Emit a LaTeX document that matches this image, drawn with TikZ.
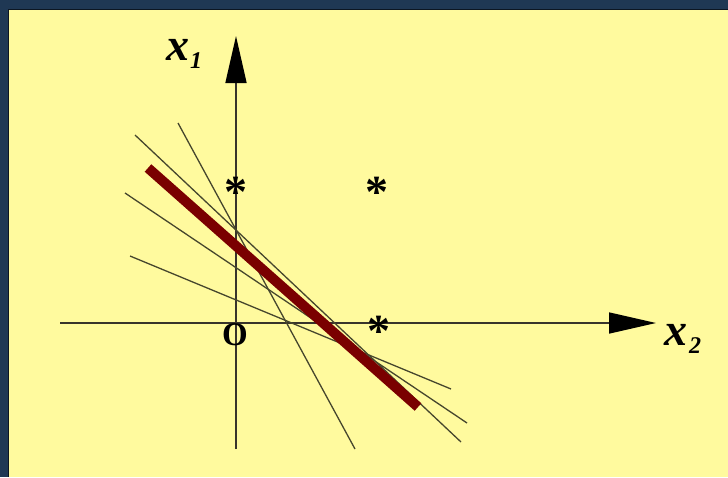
\documentclass[tikz,border=0pt]{standalone}
\usepackage{fontspec}
\setmainfont{Liberation Serif}
\usetikzlibrary{arrows.meta}
\definecolor{navy}{RGB}{31,56,84}
\definecolor{paper}{RGB}{255,250,158}
\definecolor{thin}{RGB}{70,70,45}
\definecolor{dred}{RGB}{122,0,0}
\begin{document}
\begin{tikzpicture}[x=1pt,y=-1pt,
  thinline/.style={draw=thin,line width=1.3pt},
  axis/.style={draw=black!80!olive,line width=1.6pt,-{Triangle[length=47pt,width=21pt,black]}},
  starmark/.style={font=\fontsize{46}{46}\selectfont\bfseries,inner sep=0pt,anchor=base},
  lbl/.style={font=\fontsize{46}{46}\selectfont\bfseries\itshape,inner sep=0pt,anchor=base west},
  sub/.style={font=\fontsize{24}{24}\selectfont\bfseries\itshape,inner sep=0pt,anchor=base west}]
\useasboundingbox (0,0) rectangle (728,477);
\fill[navy] (0,0) rectangle (728,477);
\fill[paper] (8,9) rectangle (728,477);
\draw[black!60!navy,line width=1pt] (8.5,477) -- (8.5,9.5) -- (728,9.5);
% axes
\coordinate (hl) at (60,323);
\coordinate (hr) at (656,323);
\coordinate (vb) at (236,449);
\coordinate (vt) at (236,36);
\draw[axis] (hl) -- (hr);
\draw[axis] (vb) -- (vt);
% thin lines
\coordinate (a1) at (178,123); \coordinate (b1) at (355,449);
\coordinate (a2) at (135,135); \coordinate (b2) at (461,442);
\coordinate (a3) at (125,193); \coordinate (b3) at (467,423);
\coordinate (a4) at (130,256); \coordinate (b4) at (451,389);
\draw[thinline] (a1) -- (b1);
\draw[thinline] (a2) -- (b2);
\draw[thinline] (a3) -- (b3);
\draw[thinline] (a4) -- (b4);
% thick red line
\coordinate (ra) at (148,168); \coordinate (rb) at (418,407);
\draw[dred,line width=10pt] (ra) -- (rb);
% stars
\node[starmark] (s1) at (236,207) {*};
\node[starmark] (s2) at (377,207) {*};
\node[starmark] (s3) at (379,346) {*};
% labels
\node[font=\fontsize{33}{33}\selectfont\bfseries,inner sep=0pt,anchor=base] (o) at (235,345) {O};
\node[lbl] (x1) at (166,60) {x};
\node[sub] (x1s) at (190,68) {1};
\node[lbl] (x2) at (664,345) {x};
\node[sub] (x2s) at (689,353) {2};
\end{tikzpicture}
\end{document}
